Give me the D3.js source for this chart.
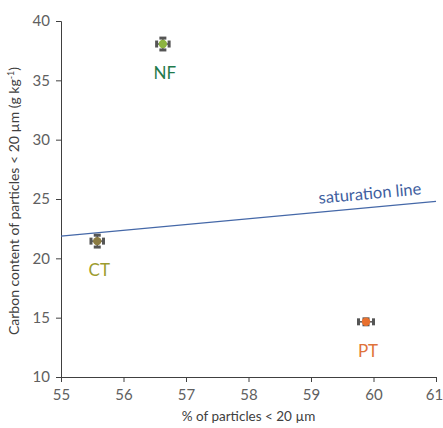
<!DOCTYPE html>
<html>
<head>
<meta charset="utf-8">
<script src="https://cdn.jsdelivr.net/npm/d3@7"></script>
<style>
  body { margin: 0; background: #fff; }
  text { font-family: Lato, "Open Sans", sans-serif; }
</style>
</head>
<body>
<div id="chart"></div>
<script>
// data
const treatments = ["NF", "CT", "PT"];
const pctParticles = [56.63, 55.58, 59.88];
const carbonContent = [38.06, 21.45, 14.65];
const xErr = [0.1, 0.1, 0.12];
const yErr = [0.5, 0.5, 0.25];
const pointColors = ["#8db440", "#8b7b42", "#e8702e"];
const labelColors = ["#1f7a4c", "#9c9c2e", "#e0723a"];
const satLineX = [55, 61];
const satLineY = [21.88, 24.8];
const xTicks = [55, 56, 57, 58, 59, 60, 61];
const yTicks = [10, 15, 20, 25, 30, 35, 40];

const W = 443, H = 428;
const margin = {top: 21, right: 7, bottom: 51, left: 61};
const width = W - margin.left - margin.right,
      height = H - margin.top - margin.bottom;

const svg = d3.select("#chart").append("svg")
    .attr("width", W).attr("height", H)
  .append("g")
    .attr("transform", `translate(${margin.left},${margin.top})`);

const x = d3.scaleLinear().domain([55, 61]).range([0, width]);
const y = d3.scaleLinear().domain([10, 40]).range([height, 0]);

// axes
const xAxis = svg.append("g")
    .attr("transform", `translate(0,${height})`)
    .call(d3.axisBottom(x).tickValues(xTicks).tickFormat(d3.format("d")).tickSize(5).tickPadding(7));
const yAxis = svg.append("g")
    .call(d3.axisLeft(y).tickValues(yTicks).tickFormat(d3.format("d")).tickSize(5).tickPadding(6));
[xAxis, yAxis].forEach(a => {
  a.selectAll("path, line").attr("stroke", "#404040");
  a.selectAll("text").attr("fill", "#606060").style("font-size", "15px");
});
xAxis.select(".tick:last-of-type text").attr("dx", -2);

svg.append("text")
    .attr("x", width / 2).attr("y", height + 44)
    .attr("text-anchor", "middle").attr("fill", "#404040")
    .style("font-size", "13.5px")
    .text("% of particles < 20 µm");

const yl = svg.append("text")
    .attr("transform", `translate(-42,${height / 2 + 2}) rotate(-90)`)
    .attr("text-anchor", "middle").attr("fill", "#404040")
    .style("font-size", "14px");
yl.append("tspan").text("Carbon content of particles < 20 µm (g kg");
yl.append("tspan").attr("baseline-shift", "super").style("font-size", "9px").text("-1");
yl.append("tspan").text(")");

// saturation line
svg.append("line")
    .attr("x1", x(satLineX[0])).attr("y1", y(satLineY[0]))
    .attr("x2", x(satLineX[1])).attr("y2", y(satLineY[1]))
    .attr("stroke", "#4568a8").attr("stroke-width", 1.3);
const ang = Math.atan2(y(satLineY[1]) - y(satLineY[0]), x(satLineX[1]) - x(satLineX[0])) * 180 / Math.PI;
svg.append("text")
    .attr("transform", `translate(${x(59.95)},${y(25.0)}) rotate(${ang})`)
    .attr("text-anchor", "middle").attr("fill", "#3f5f9f")
    .style("font-size", "16.5px")
    .text("saturation line");

// points with error bars
const pts = treatments.map((t, i) => ({
  name: t, x: pctParticles[i], y: carbonContent[i],
  ex: xErr[i], ey: yErr[i], fill: pointColors[i], lab: labelColors[i]
}));

const g = svg.selectAll(".pt").data(pts).join("g").attr("class", "pt");
g.append("line")
    .attr("x1", d => x(d.x - d.ex)).attr("x2", d => x(d.x + d.ex))
    .attr("y1", d => y(d.y)).attr("y2", d => y(d.y))
    .attr("stroke", "#555").attr("stroke-width", 1.5);
g.append("line")
    .attr("x1", d => x(d.x)).attr("x2", d => x(d.x))
    .attr("y1", d => y(d.y - d.ey)).attr("y2", d => y(d.y + d.ey))
    .attr("stroke", "#555").attr("stroke-width", 1.5);
// caps
g.append("rect")
    .attr("x", d => x(d.x - d.ex) - 1.5).attr("y", d => y(d.y) - 3.5)
    .attr("width", 3).attr("height", 7).attr("fill", "#555");
g.append("rect")
    .attr("x", d => x(d.x + d.ex) - 1.5).attr("y", d => y(d.y) - 3.5)
    .attr("width", 3).attr("height", 7).attr("fill", "#555");
g.append("rect")
    .attr("x", d => x(d.x) - 3.5).attr("y", d => y(d.y + d.ey) - 1.5)
    .attr("width", 7).attr("height", 3).attr("fill", "#555");
g.append("rect")
    .attr("x", d => x(d.x) - 3.5).attr("y", d => y(d.y - d.ey) - 1.5)
    .attr("width", 7).attr("height", 3).attr("fill", "#555");
g.append("circle")
    .attr("cx", d => x(d.x)).attr("cy", d => y(d.y)).attr("r", 4.2)
    .attr("fill", d => d.fill);
g.append("text")
    .attr("x", d => x(d.x) + 2).attr("y", d => y(d.y) + 35)
    .attr("text-anchor", "middle").attr("fill", d => d.lab)
    .style("font-size", "17px")
    .text(d => d.name);
</script>
</body>
</html>
